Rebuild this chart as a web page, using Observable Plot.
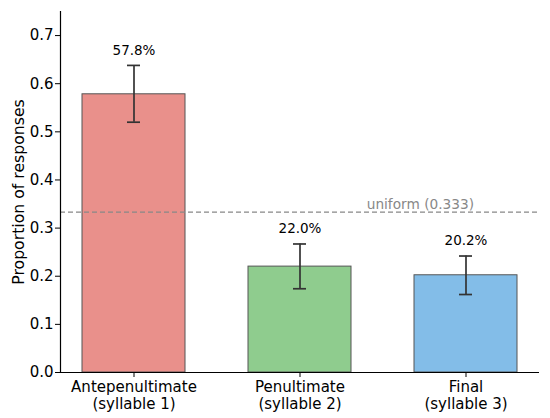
<!DOCTYPE html>
<html><head><meta charset="utf-8">
<script src="https://cdn.jsdelivr.net/npm/d3@7"></script>
<script src="https://cdn.jsdelivr.net/npm/@observablehq/plot@0.6"></script>
<style>
body{margin:0;background:#fff;}
svg{font-family:"DejaVu Sans",sans-serif;}
</style>
</head><body><div id="chart"></div>
<script>
const categories = ["Antepenultimate\n(syllable 1)", "Penultimate\n(syllable 2)", "Final\n(syllable 3)"];
const proportions = [0.578, 0.220, 0.202];
const errLow = [0.520, 0.174, 0.162];
const errHigh = [0.638, 0.267, 0.242];
const labels = ["57.8%", "22.0%", "20.2%"];
const colors = ["#E9908B", "#8FCC8E", "#83BDE8"];
const uniform = 0.333;
const yTicks = [0, 0.1, 0.2, 0.3, 0.4, 0.5, 0.6, 0.7];

const data = categories.map((c, i) => ({cat: c, p: proportions[i], lo: errLow[i], hi: errHigh[i], label: labels[i], color: colors[i]}));

const chart = Plot.plot({
  width: 550, height: 418,
  marginLeft: 60, marginRight: 11, marginTop: 11, marginBottom: 46,
  style: {fontFamily: "DejaVu Sans, sans-serif", fontSize: "13px", color: "#000", background: "#fff"},
  x: {domain: categories, paddingInner: 0.38, paddingOuter: 0.13, label: null},
  y: {domain: [0, 0.75], label: null},
  marks: [
    Plot.barY(data, {x: "cat", y: "p", fill: "color", stroke: "#555", strokeWidth: 1}),
    Plot.ruleY([uniform], {stroke: "#888", strokeWidth: 1.3, strokeDasharray: "5,3"}),
    Plot.text(["uniform (0.333)"], {x: () => categories[2], y: uniform, text: d => d, textAnchor: "end", dx: 8, dy: -8, fill: "#888", fontSize: 13.7}),
    Plot.ruleX(data, {x: "cat", y1: "lo", y2: "hi", stroke: "#333", strokeWidth: 1.7}),
    Plot.tickY(data, {x: "cat", y: "lo", stroke: "#333", strokeWidth: 1.7, insetLeft: 45, insetRight: 45}),
    Plot.tickY(data, {x: "cat", y: "hi", stroke: "#333", strokeWidth: 1.7, insetLeft: 45, insetRight: 45}),
    Plot.text(data, {x: "cat", y: "hi", text: "label", dy: -15, fontSize: 13.5, fill: "#000"}),
    Plot.axisY({ticks: yTicks, tickFormat: d3.format(".1f"), tickSize: 5, tickPadding: 2, fontSize: 15, label: null, stroke: "#000"}),
    Plot.text(["Proportion of responses"], {frameAnchor: "left", textAnchor: "middle", dx: -42, rotate: -90, text: d => d, fontSize: 15.7, fill: "#000"}),
    Plot.axisX({tickSize: 5, fontSize: 15, label: null, lineHeight: 1.1, tickPadding: 3}),
    Plot.ruleY([0], {stroke: "#000", strokeWidth: 1.2}),
    Plot.frame({anchor: "left", stroke: "#000", strokeWidth: 1.2})
  ]
});
document.getElementById("chart").appendChild(chart);
</script>
</body></html>
